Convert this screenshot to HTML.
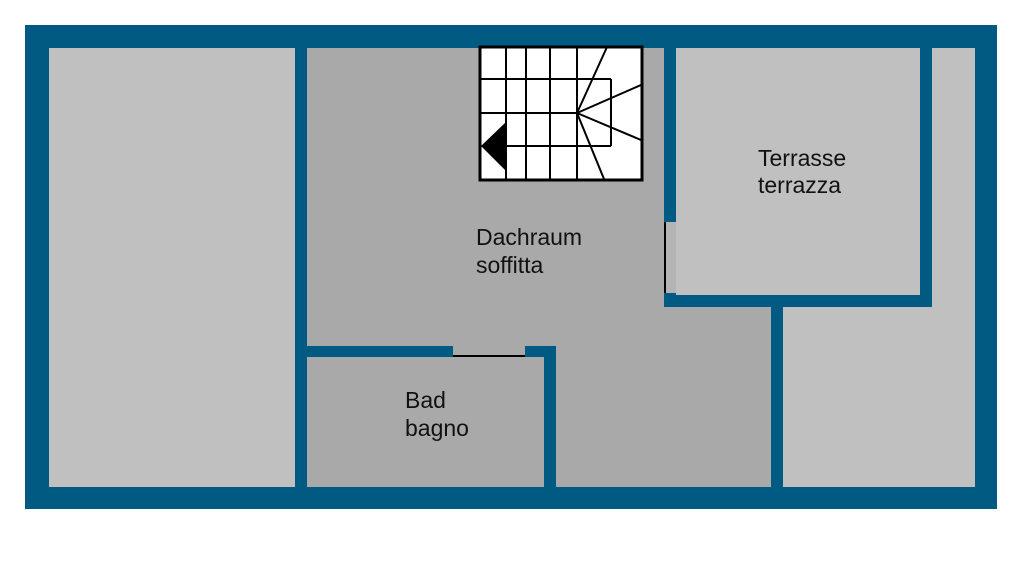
<!DOCTYPE html>
<html><head><style>
html,body{margin:0;padding:0;background:#fff;}
body{width:1024px;height:576px;position:relative;overflow:hidden;font-family:"Liberation Sans",sans-serif;}
</style></head><body>
<svg width="1024" height="576" xmlns="http://www.w3.org/2000/svg">
<rect x="25" y="25" width="972" height="484" fill="#005a82"/>
<rect x="49" y="48" width="246" height="439" fill="#c0c0c0"/>
<rect x="307" y="48" width="464" height="439" fill="#a9a9a9"/>
<rect x="664" y="48" width="268" height="259" fill="#005a82"/>
<rect x="676" y="48" width="244" height="247" fill="#c0c0c0"/>
<rect x="664" y="222" width="12" height="71" fill="#b4b4b4"/>
<line x1="665" y1="222" x2="665" y2="293" stroke="#000" stroke-width="2"/>
<rect x="932" y="48" width="43" height="439" fill="#c0c0c0"/>
<rect x="783" y="307" width="192" height="180" fill="#c0c0c0"/>
<rect x="307" y="346" width="249" height="11" fill="#005a82"/>
<rect x="544" y="346" width="12" height="141" fill="#005a82"/>
<rect x="453" y="346" width="72" height="11" fill="#a9a9a9"/>
<line x1="453" y1="356" x2="525" y2="356" stroke="#000" stroke-width="2"/>
<g stroke="#000" stroke-width="2" fill="none">
<rect x="480" y="47" width="162" height="133" fill="#fff" stroke-width="3"/>
<line x1="506" y1="47" x2="506" y2="180"/>
<line x1="526" y1="47" x2="526" y2="180"/>
<line x1="550" y1="47" x2="550" y2="180"/>
<line x1="577" y1="47" x2="577" y2="180"/>
<line x1="480" y1="79" x2="611" y2="79"/>
<line x1="480" y1="113" x2="577" y2="113"/>
<line x1="480" y1="146" x2="611" y2="146"/>
<line x1="611" y1="79" x2="611" y2="146"/>
<line x1="577" y1="113" x2="607" y2="47"/>
<line x1="577" y1="113" x2="641" y2="85"/>
<line x1="577" y1="113" x2="641" y2="140"/>
<line x1="577" y1="113" x2="604" y2="179"/>
</g>
<polygon points="506,122 481,146 506,171" fill="#000"/>
<g font-family="Liberation Sans, sans-serif" font-size="23" fill="#111">
<text x="476" y="245">Dachraum</text>
<text x="476" y="273">soffitta</text>
<text x="758" y="166">Terrasse</text>
<text x="758" y="193">terrazza</text>
<text x="405" y="408">Bad</text>
<text x="405" y="436">bagno</text>
</g>
</svg>
</body></html>
